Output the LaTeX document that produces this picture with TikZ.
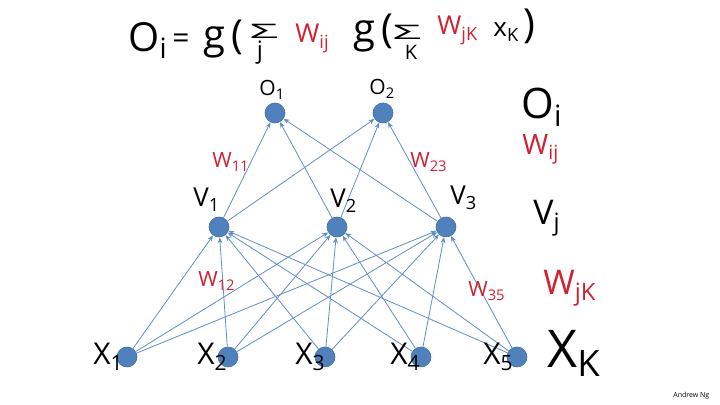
\documentclass[tikz,border=0pt]{standalone}
\usepackage{fontspec}
\setmainfont{Open Sans}
\usepackage{tikz}
\usetikzlibrary{arrows.meta}
\usepackage{xcolor}
\definecolor{figblue}{HTML}{4F81BD}
\definecolor{figred}{HTML}{D02131}

\begin{document}
\begin{tikzpicture}[x=0.5pt, y=-0.5pt,
  unit/.style={circle, fill=figblue, draw=figblue!85!black, line width=0.3pt, minimum size=10pt, inner sep=0},
  wire/.style={->, figblue!90, line width=0.4pt},
  hand/.style={inner sep=0, anchor=base west, font=\fontsize{#1}{#1}\selectfont},
  hand/.default=14,
  wt/.style={hand=#1, text=figred},
  wt/.default=10.5,
  >={Stealth[length=3pt,width=2.4pt]}
]
\useasboundingbox (0,0) rectangle (720,405);

% formula on top
\node[hand=20] (fo) at (128,52) {O\textsubscript{i}};
\node[hand=15, anchor=center] (feq) at (181,41) {=};
\node[hand=20] (fg1) at (203,49) {g\,(};
\node[hand=10, anchor=center] (fs1) at (264,31) {\scalebox{2.5}[1]{Σ}};
\node[hand=12, anchor=center] (fj) at (260,53) {j};
\node[wt=13] (fw1) at (295,43) {W\textsubscript{ij}};
\node[hand=20] (fg2) at (353,43) {g\,(};
\node[hand=10, anchor=center] (fs2) at (407,32) {\scalebox{2.5}[1]{Σ}};
\node[hand=10, anchor=center] (fk) at (411,52) {K};
\node[wt=13] (fw2) at (437,35) {W\textsubscript{jK}};
\node[hand=13] (fx) at (493,37) {x\textsubscript{K}};
\node[hand=20, anchor=center] (fp) at (529,26) {)};

% units
\foreach \i/\x in {1/275,2/383}{
  \node[unit] (o\i) at (\x,113) {};
}
\foreach \j/\x in {1/219,2/337,3/446}{
  \node[unit] (v\j) at (\x,227) {};
}
\foreach \k/\x in {1/127,2/228,3/325,4/421,5/517}{
  \node[unit] (x\k) at (\x,357) {};
}

% connections
\foreach \j in {1,2,3}{
  \foreach \i in {1,2}{
    \draw[wire] (v\j) -- (o\i);
  }
}
\foreach \k in {1,...,5}{
  \foreach \j in {1,2,3}{
    \draw[wire] (x\k) -- (v\j);
  }
}

% unit labels
\node[hand=10.5] (lo1) at (259,96) {O\textsubscript{1}};
\node[hand=10.5] (lo2) at (369,95) {O\textsubscript{2}};
\foreach \j/\x/\y in {1/193/207,2/330/208,3/450/205}{
  \node[hand=13] (lv\j) at (\x,\y) {V\textsubscript{\j}};
}
\foreach \k/\x in {1/93,2/197,3/295,4/390,5/483}{
  \node[hand=15] (lx\k) at (\x,365) {X\textsubscript{\k}};
}

% weights
\node[wt] (w11) at (212,168) {W\textsubscript{11}};
\node[wt] (w23) at (410,168) {W\textsubscript{23}};
\node[wt] (w12) at (198,287) {W\textsubscript{12}};
\node[wt] (w35) at (468,297) {W\textsubscript{35}};

% legend column
\node[hand=21] (ko) at (521,119) {O\textsubscript{i}};
\node[wt=14] (kw1) at (522,155) {W\textsubscript{ij}};
\node[hand=17] (kv) at (533,225) {V\textsubscript{j}};
\node[wt=17] (kw2) at (543,295) {W\textsubscript{jK}};
\node[hand=26] (kx) at (547,368) {X\textsubscript{K}};

\node[hand=3.5] (credit) at (673,398) {Andrew Ng};
\end{tikzpicture}
\end{document}
